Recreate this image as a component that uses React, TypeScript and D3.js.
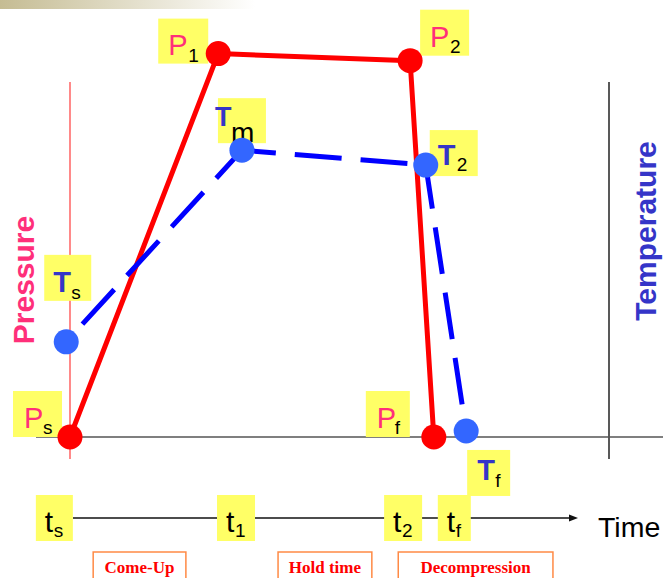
import React from "react";
import * as d3 from "d3";

// ---------- data ----------
const pressureTimes = [0, 27.5, 63.1, 67.5];
const pressureValues = [0, 108, 106, 0];
const pressureSubs = ["s", "1", "2", "f"];

const tempTimes = [-0.7, 31.9, 66.0, 73.5];
const tempValues = [26.8, 80.8, 76.6, 1.7];
const tempSubs = ["s", "m", "2", "f"];

const timeTickValues = [-2.9, 30.8, 61.8, 71.3];
const timeTickSubs = ["s", "1", "2", "f"];

const phaseNames = ["Come-Up", "Hold time", "Decompression"];
const phaseStart = [4.3, 38.6, 60.9];
const phaseEnd = [21.5, 56.0, 89.6];

// ---------- layout (not data) ----------
const W = 663;
const H = 578;
const FONT = "'Liberation Sans', Arial, sans-serif";
const SERIF = "'Liberation Serif', 'Times New Roman', serif";
const YELLOW = "#ffff66";
const PINK = "#ff2f7a";
const TBLUE = "#3535c8";

// label box offsets relative to point, and text offsets inside box
const pLabelLayout = [
  { dx: -57, dy: -46, w: 49, h: 46, mx: 11, my: 37, sx: 30, sy: 43 },
  { dx: -60, dy: -35, w: 50, h: 45, mx: 10, my: 36, sx: 30, sy: 43 },
  { dx: 10, dy: -51, w: 49, h: 46, mx: 10, my: 37, sx: 30, sy: 43 },
  { dx: -68, dy: -46, w: 44, h: 46, mx: 11, my: 37, sx: 29, sy: 43 },
];
const tLabelLayout = [
  { dx: -22, dy: -87, w: 47, h: 46, mx: 9, my: 37, sx: 27, sy: 44, big: false },
  { dx: -24, dy: -52, w: 48, h: 45, mx: -3, my: 28, sx: 13, sy: 44, big: true },
  { dx: 4, dy: -35, w: 48, h: 46, mx: 8, my: 35, sx: 27, sy: 41, big: false },
  { dx: 1, dy: 19, w: 43, h: 46, mx: 10, my: 30, sx: 28, sy: 37, big: false },
];
const tickBoxW = [37, 38, 38, 33];
const dashOffsets = [42, 13, 3];

export default function App() {
  const x = d3.scaleLinear().domain([0, 100]).range([70, 609]);
  const y = d3.scaleLinear().domain([0, 100]).range([437, 82]);
  const line = d3
    .line<[number, number]>()
    .x((d) => x(d[0]))
    .y((d) => y(d[1]));

  const pPts: [number, number][] = pressureTimes.map((t, i) => [t, pressureValues[i]]);
  const tPts: [number, number][] = tempTimes.map((t, i) => [t, tempValues[i]]);

  const timeY = 518;
  const axisTop = y(100);
  const axisBottom = 459;

  return (
    <svg
      width={W}
      height={H}
      style={{ position: "absolute", left: 0, top: 0, display: "block", background: "#fff" }}
    >
      <defs>
        <linearGradient id="topgrad" x1="0" x2="1" y1="0" y2="0">
          <stop offset="0" stopColor="#c5bc93" />
          <stop offset="1" stopColor="#ffffff" />
        </linearGradient>
      </defs>
      <rect x={0} y={0} width={255} height={9} fill="url(#topgrad)" />

      {/* axes */}
      <line x1={x(0)} x2={x(0)} y1={axisTop} y2={axisBottom} stroke="#ff3b3b" strokeWidth={1.2} />
      <line x1={x(100)} x2={x(100)} y1={axisTop} y2={axisBottom} stroke="#222" strokeWidth={1.5} />
      <line x1={36} x2={W} y1={y(0)} y2={y(0)} stroke="#555" strokeWidth={1.5} />

      {/* time axis */}
      <line x1={73} x2={574} y1={timeY} y2={timeY} stroke="#111" strokeWidth={1.4} />
      <path d={`M578,${timeY} L569,${timeY - 3.5} L569,${timeY + 3.5} Z`} fill="#111" />
      <text x={598} y={537} fontFamily={FONT} fontSize={28.5} fill="#000">
        Time
      </text>

      {/* axis titles */}
      <text
        transform={`translate(34,280) rotate(-90)`}
        textAnchor="middle"
        fontFamily={FONT}
        fontWeight="bold"
        fontSize={30}
        fill={PINK}
      >
        Pressure
      </text>
      <text
        transform={`translate(656,231) rotate(-90)`}
        textAnchor="middle"
        fontFamily={FONT}
        fontWeight="bold"
        fontSize={30}
        fill={TBLUE}
      >
        Temperature
      </text>

      {/* time tick boxes */}
      {timeTickValues.map((t, i) => {
        const cx = x(t);
        const bw = tickBoxW[i];
        const bx = cx - bw / 2;
        return (
          <g key={"tt" + i}>
            <rect x={bx} y={495} width={bw} height={46} fill={YELLOW} />
            <text x={bx + 9} y={532} fontFamily={FONT} fontSize={30} fill="#000">
              t
            </text>
            <text x={bx + 18} y={537} fontFamily={FONT} fontSize={19} fill="#000">
              {timeTickSubs[i]}
            </text>
          </g>
        );
      })}

      {/* phase boxes */}
      {phaseNames.map((n, i) => {
        const x0 = x(phaseStart[i]);
        const x1 = x(phaseEnd[i]);
        return (
          <g key={"ph" + i}>
            <rect x={x0} y={552} width={x1 - x0} height={40} fill="#fff" stroke="#ff8a45" strokeWidth={1.5} />
            <text
              x={(x0 + x1) / 2}
              y={573}
              textAnchor="middle"
              fontFamily={SERIF}
              fontWeight="bold"
              fontSize={17}
              fill="#ff0000"
            >
              {n}
            </text>
          </g>
        );
      })}

      {/* pressure labels */}
      {pPts.map((p, i) => {
        const L = pLabelLayout[i];
        const bx = x(p[0]) + L.dx;
        const by = y(p[1]) + L.dy;
        return (
          <g key={"pl" + i}>
            <rect x={bx} y={by} width={L.w} height={L.h} fill={YELLOW} />
            <text x={bx + L.mx} y={by + L.my} fontFamily={FONT} fontSize={29} fill={PINK}>
              P
            </text>
            <text x={bx + L.sx} y={by + L.sy} fontFamily={FONT} fontSize={19} fill="#000">
              {pressureSubs[i]}
            </text>
          </g>
        );
      })}

      {/* temperature labels */}
      {tPts.map((p, i) => {
        const L = tLabelLayout[i];
        const bx = x(p[0]) + L.dx;
        const by = y(p[1]) + L.dy;
        return (
          <g key={"tl" + i}>
            <rect x={bx} y={by} width={L.w} height={L.h} fill={YELLOW} />
            <text
              x={bx + L.mx}
              y={by + L.my}
              fontFamily={FONT}
              fontWeight="bold"
              fontSize={L.big ? 27 : 29}
              fill={TBLUE}
            >
              T
            </text>
            <text x={bx + L.sx} y={by + L.sy} fontFamily={FONT} fontSize={L.big ? 28 : 19} fill="#000">
              {tempSubs[i]}
            </text>
          </g>
        );
      })}

      {/* pressure line */}
      <path d={line(pPts) || ""} fill="none" stroke="#ff0000" strokeWidth={5} strokeLinejoin="round" />

      {/* temperature dashed line (segment by segment) */}
      {tPts.slice(0, -1).map((p, i) => (
        <path
          key={"ts" + i}
          d={line([p, tPts[i + 1]]) || ""}
          fill="none"
          stroke="#0000ff"
          strokeWidth={5}
          strokeDasharray="47 19"
          strokeDashoffset={dashOffsets[i]}
        />
      ))}

      {/* dots */}
      {pPts.map((p, i) => (
        <circle key={"pd" + i} cx={x(p[0])} cy={y(p[1])} r={12.5} fill="#ff0000" />
      ))}
      {tPts.map((p, i) => (
        <circle key={"td" + i} cx={x(p[0])} cy={y(p[1])} r={12.5} fill="#3366ff" />
      ))}
    </svg>
  );
}
